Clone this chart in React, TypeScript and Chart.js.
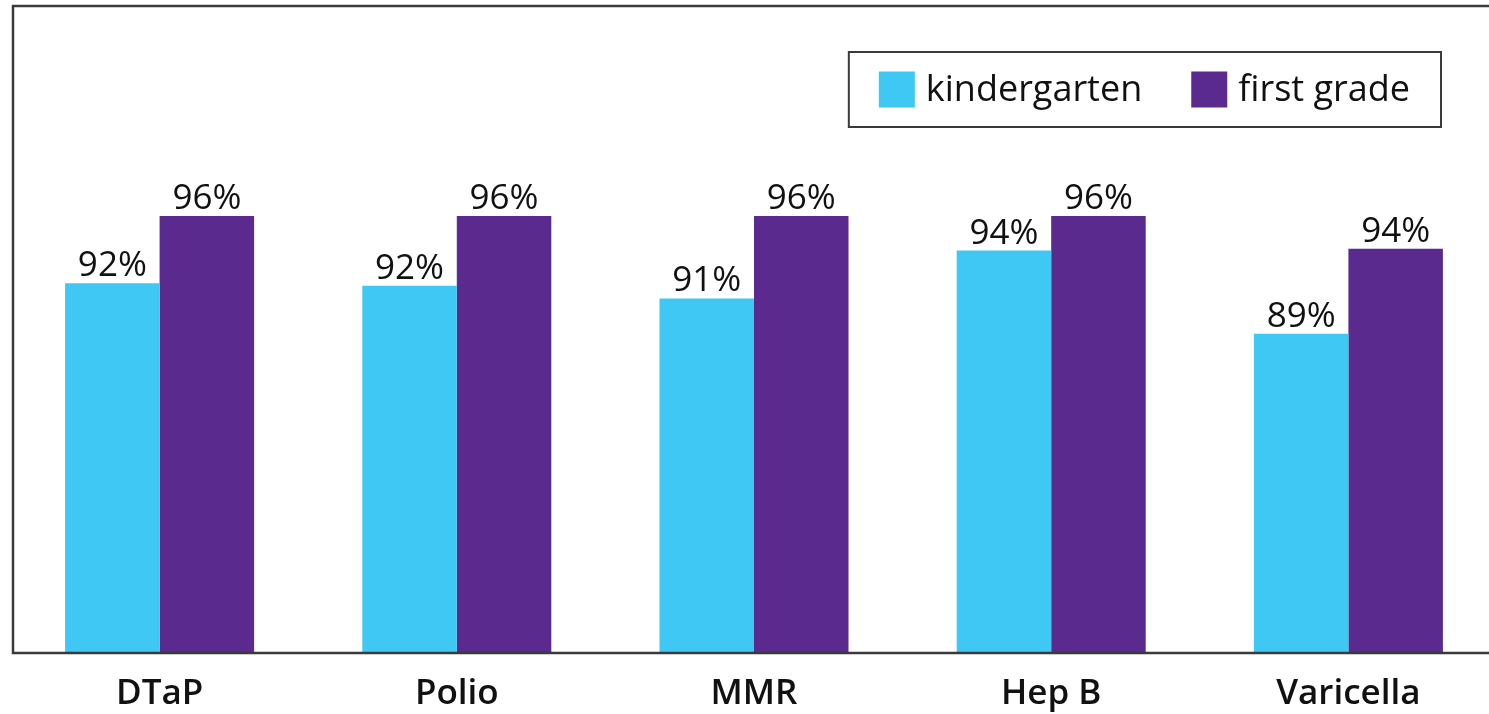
import React, { useEffect, useRef } from "react";
import { Chart, registerables } from "chart.js";

Chart.register(...registerables);

const categories = ["DTaP", "Polio", "MMR", "Hep B", "Varicella"];
const kindergarten = [92.0, 91.85, 91.1, 93.95, 89.0];
const firstGrade = [96.0, 96.0, 96.0, 96.0, 94.05];
const seriesNames = ["kindergarten", "first grade"];
const seriesColors = ["#3EC8F3", "#5B2A8E"];
const yMin = 70;
const yMax = 108.5;

const FONT = "'Open Sans', 'Noto Sans', sans-serif";
const FRAME = "#3a3a3a";

const framePlugin = {
  id: "frame",
  afterDatasetsDraw(chart: any) {
    const { ctx, chartArea } = chart;
    const w = chart.width;
    ctx.save();
    ctx.strokeStyle = FRAME;
    ctx.lineWidth = 2.5;
    ctx.beginPath();
    const lx = chartArea.left + 2;
    ctx.moveTo(w, chartArea.top);
    ctx.lineTo(lx, chartArea.top);
    ctx.lineTo(lx, chartArea.bottom);
    ctx.lineTo(w, chartArea.bottom);
    ctx.stroke();
    ctx.restore();
  },
};

const valueLabelPlugin = {
  id: "valueLabels",
  afterDatasetsDraw(chart: any) {
    const { ctx } = chart;
    ctx.save();
    ctx.font = `35px ${FONT}`;
    ctx.fillStyle = "#111111";
    ctx.textAlign = "center";
    ctx.textBaseline = "alphabetic";
    chart.data.datasets.forEach((ds: any, di: number) => {
      const meta = chart.getDatasetMeta(di);
      meta.data.forEach((bar: any, i: number) => {
        const v = ds.data[i];
        ctx.fillText(`${Math.round(v)}%`, bar.x, bar.y - 7);
      });
    });
    ctx.restore();
  },
};

const boxLegendPlugin = {
  id: "boxLegend",
  afterDraw(chart: any) {
    const { ctx, chartArea } = chart;
    ctx.save();
    ctx.font = `36px ${FONT}`;
    const sw = 36;
    const padL = 30;
    const swGap = 11;
    const itemGap = 49;
    const padR = 31;
    const widths = chart.data.datasets.map((d: any) => ctx.measureText(d.label).width);
    let total = padL + padR;
    widths.forEach((w: number, i: number) => {
      total += sw + swGap + w + (i < widths.length - 1 ? itemGap : 0);
    });
    const right = chartArea.right - 56;
    const left = right - total;
    const top = chartArea.top + 46;
    const h = 75;
    ctx.strokeStyle = FRAME;
    ctx.lineWidth = 2;
    ctx.strokeRect(left, top, total, h);
    let x = left + padL;
    const cy = top + h / 2;
    chart.data.datasets.forEach((d: any, i: number) => {
      ctx.fillStyle = d.backgroundColor;
      ctx.fillRect(x, cy - sw / 2, sw, sw);
      x += sw + swGap;
      ctx.fillStyle = "#111111";
      ctx.textAlign = "left";
      ctx.textBaseline = "middle";
      ctx.fillText(d.label, x, cy + 1);
      x += widths[i] + itemGap;
    });
    ctx.restore();
  },
};

export default function App() {
  const canvasRef = useRef<HTMLCanvasElement | null>(null);

  useEffect(() => {
    if (!canvasRef.current) return;
    const chart = new Chart(canvasRef.current, {
      type: "bar",
      data: {
        labels: categories,
        datasets: [
          {
            label: seriesNames[0],
            data: kindergarten,
            backgroundColor: seriesColors[0],
            borderWidth: 0,
            categoryPercentage: 0.636,
            barPercentage: 1.0,
          },
          {
            label: seriesNames[1],
            data: firstGrade,
            backgroundColor: seriesColors[1],
            borderWidth: 0,
            categoryPercentage: 0.636,
            barPercentage: 1.0,
          },
        ],
      },
      options: {
        responsive: false,
        maintainAspectRatio: false,
        animation: false,
        layout: { padding: { left: 11, right: 13, top: 6, bottom: 1 } },
        plugins: {
          legend: { display: false },
          tooltip: { enabled: false },
        },
        scales: {
          x: {
            grid: { display: false, drawTicks: false },
            border: { display: false },
            ticks: {
              color: "#111111",
              padding: 20,
              font: { family: FONT, size: 35, weight: 600 as any, lineHeight: 1.2 },
              maxRotation: 0,
              autoSkip: false,
            },
          },
          y: {
            display: false,
            min: yMin,
            max: yMax,
          },
        },
      },
      plugins: [framePlugin, valueLabelPlugin, boxLegendPlugin],
    });
    return () => chart.destroy();
  }, []);

  return (
    <div
      style={{
        position: "fixed",
        left: 0,
        top: 0,
        width: 1489,
        height: 714,
        overflow: "hidden",
        background: "#ffffff",
      }}
    >
      <canvas ref={canvasRef} width={1510} height={736} style={{ display: "block" }} />
    </div>
  );
}
